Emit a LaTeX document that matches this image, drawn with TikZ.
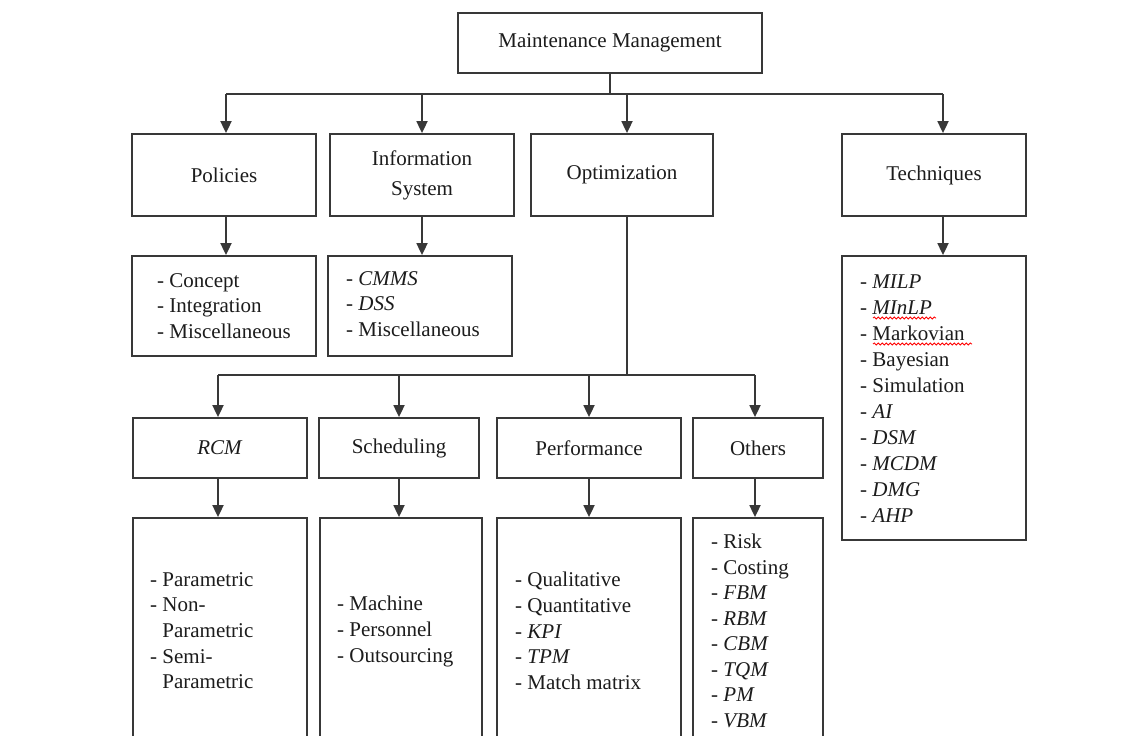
\documentclass[tikz,border=0pt]{standalone}
\usepackage{fontspec}
\setmainfont{Liberation Serif}
\usetikzlibrary{arrows.meta,decorations.pathmorphing}
\definecolor{lc}{HTML}{383838}
\definecolor{tc}{HTML}{1C1C1C}
\begin{document}
\begin{tikzpicture}[x=1pt,y=-1pt,
  box/.style={draw=lc,line width=1.8pt,inner sep=0pt,text=tc,
    font=\fontsize{21}{25}\selectfont,align=center},
  lst/.style={inner sep=0pt,anchor=north west,align=left,text=tc,
    font=\fontsize{21}{25.7}\selectfont},
  ln/.style={draw=lc,line width=1.8pt},
  arr/.style={draw=lc,line width=1.8pt,-{Triangle[width=11pt,length=12pt]}},
  wavy/.style={draw=red,line width=0.8pt,decorate,
    decoration={snake,amplitude=1.1pt,segment length=4pt}}]
\useasboundingbox (0,0) rectangle (1138,736);
\clip (0,0) rectangle (1138,736);
\fill[white] (0,0) rectangle (1138,736);

% top
\node[box,minimum width=304pt,minimum height=60pt] (mm) at (610,43) {Maintenance Management};

% second row
\node[box,minimum width=184pt,minimum height=82pt] (pol) at (224,175) {Policies};
\node[box,minimum width=184pt,minimum height=82pt,font=\fontsize{21}{30}\selectfont] (inf) at (422,175) {Information\\System};
\node[box,minimum width=182pt,minimum height=82pt] (opt) at (622,175) {Optimization};
\node[box,minimum width=184pt,minimum height=82pt] (tec) at (934,175) {Techniques};

% second row lists
\node[box,minimum width=184pt,minimum height=100pt] (polL) at (224,306) {};
\node[box,minimum width=184pt,minimum height=100pt] (infL) at (420,306) {};
\node[box,minimum width=184pt,minimum height=284pt] (tecL) at (934,398) {};

\node[lst] (polT) at (157,273) {- Concept\\- Integration\\- Miscellaneous};
\node[lst] (infT) at (346,271) {- \textit{CMMS}\\- \textit{DSS}\\- Miscellaneous};
\node[lst,font=\fontsize{21}{26}\selectfont] (tecT) at (860,275) {- \textit{MILP}\\- \textit{MInLP}\\- Markovian\\- Bayesian\\- Simulation\\- \textit{AI}\\- \textit{DSM}\\- \textit{MCDM}\\- \textit{DMG}\\- \textit{AHP}};
\draw[wavy] (873,318) -- (936,318);
\draw[wavy] (873,344) -- (972,344);

% third row
\node[box,minimum width=174pt,minimum height=60pt] (rcm) at (220,448) {\textit{RCM}};
\node[box,minimum width=160pt,minimum height=60pt] (sch) at (399,448) {Scheduling};
\node[box,minimum width=184pt,minimum height=60pt] (per) at (589,448) {Performance};
\node[box,minimum width=130pt,minimum height=60pt] (oth) at (758,448) {Others};

% fourth row
\node[box,minimum width=174pt,minimum height=252pt] (rcmL) at (220,644) {};
\node[box,minimum width=162pt,minimum height=252pt] (schL) at (401,644) {};
\node[box,minimum width=184pt,minimum height=252pt] (perL) at (589,644) {};
\node[box,minimum width=130pt,minimum height=252pt] (othL) at (758,644) {};

\node[lst] (rcmT) at (150,572) {- Parametric\\- Non-\\\hspace*{12.2pt}Parametric\\- Semi-\\\hspace*{12.2pt}Parametric};
\node[lst] (schT) at (337,596) {- Machine\\- Personnel\\- Outsourcing};
\node[lst] (perT) at (515,572) {- Qualitative\\- Quantitative\\- \textit{KPI}\\- \textit{TPM}\\- Match matrix};
\node[lst,font=\fontsize{21}{25.5}\selectfont] (othT) at (711,534) {- Risk\\- Costing\\- \textit{FBM}\\- \textit{RBM}\\- \textit{CBM}\\- \textit{TQM}\\- \textit{PM}\\- \textit{VBM}};

% connectors top level
\coordinate (j0) at (610,94);
\coordinate (bl) at (226,94);
\coordinate (br) at (943,94);
\coordinate (bo) at (627,94);
\draw[ln] (mm.south) -- (j0);
\draw[ln] (bl) -- (br);
\draw[arr] (bl) -- (bl |- pol.north);
\draw[arr] (inf.north |- bl) -- (inf.north);
\draw[arr] (bo) -- (bo |- opt.north);
\draw[arr] (br) -- (br |- tec.north);

\draw[arr] (bl |- pol.south) -- (bl |- polL.north);
\draw[arr] (inf.south) -- (inf.south |- infL.north);
\draw[arr] (br |- tec.south) -- (br |- tecL.north);

% optimization branch
\coordinate (ob) at (627,375);
\coordinate (l3) at (218,375);
\coordinate (r3) at (755,375);
\draw[ln] (bo |- opt.south) -- (ob);
\draw[ln] (l3) -- (r3);
\draw[arr] (l3) -- (l3 |- rcm.north);
\draw[arr] (sch.north |- l3) -- (sch.north);
\draw[arr] (per.north |- l3) -- (per.north);
\draw[arr] (r3) -- (r3 |- oth.north);

\draw[arr] (l3 |- rcm.south) -- (l3 |- rcmL.north);
\draw[arr] (sch.south) -- (sch.south |- schL.north);
\draw[arr] (per.south) -- (per.south |- perL.north);
\draw[arr] (r3 |- oth.south) -- (r3 |- othL.north);
\end{tikzpicture}
\end{document}
